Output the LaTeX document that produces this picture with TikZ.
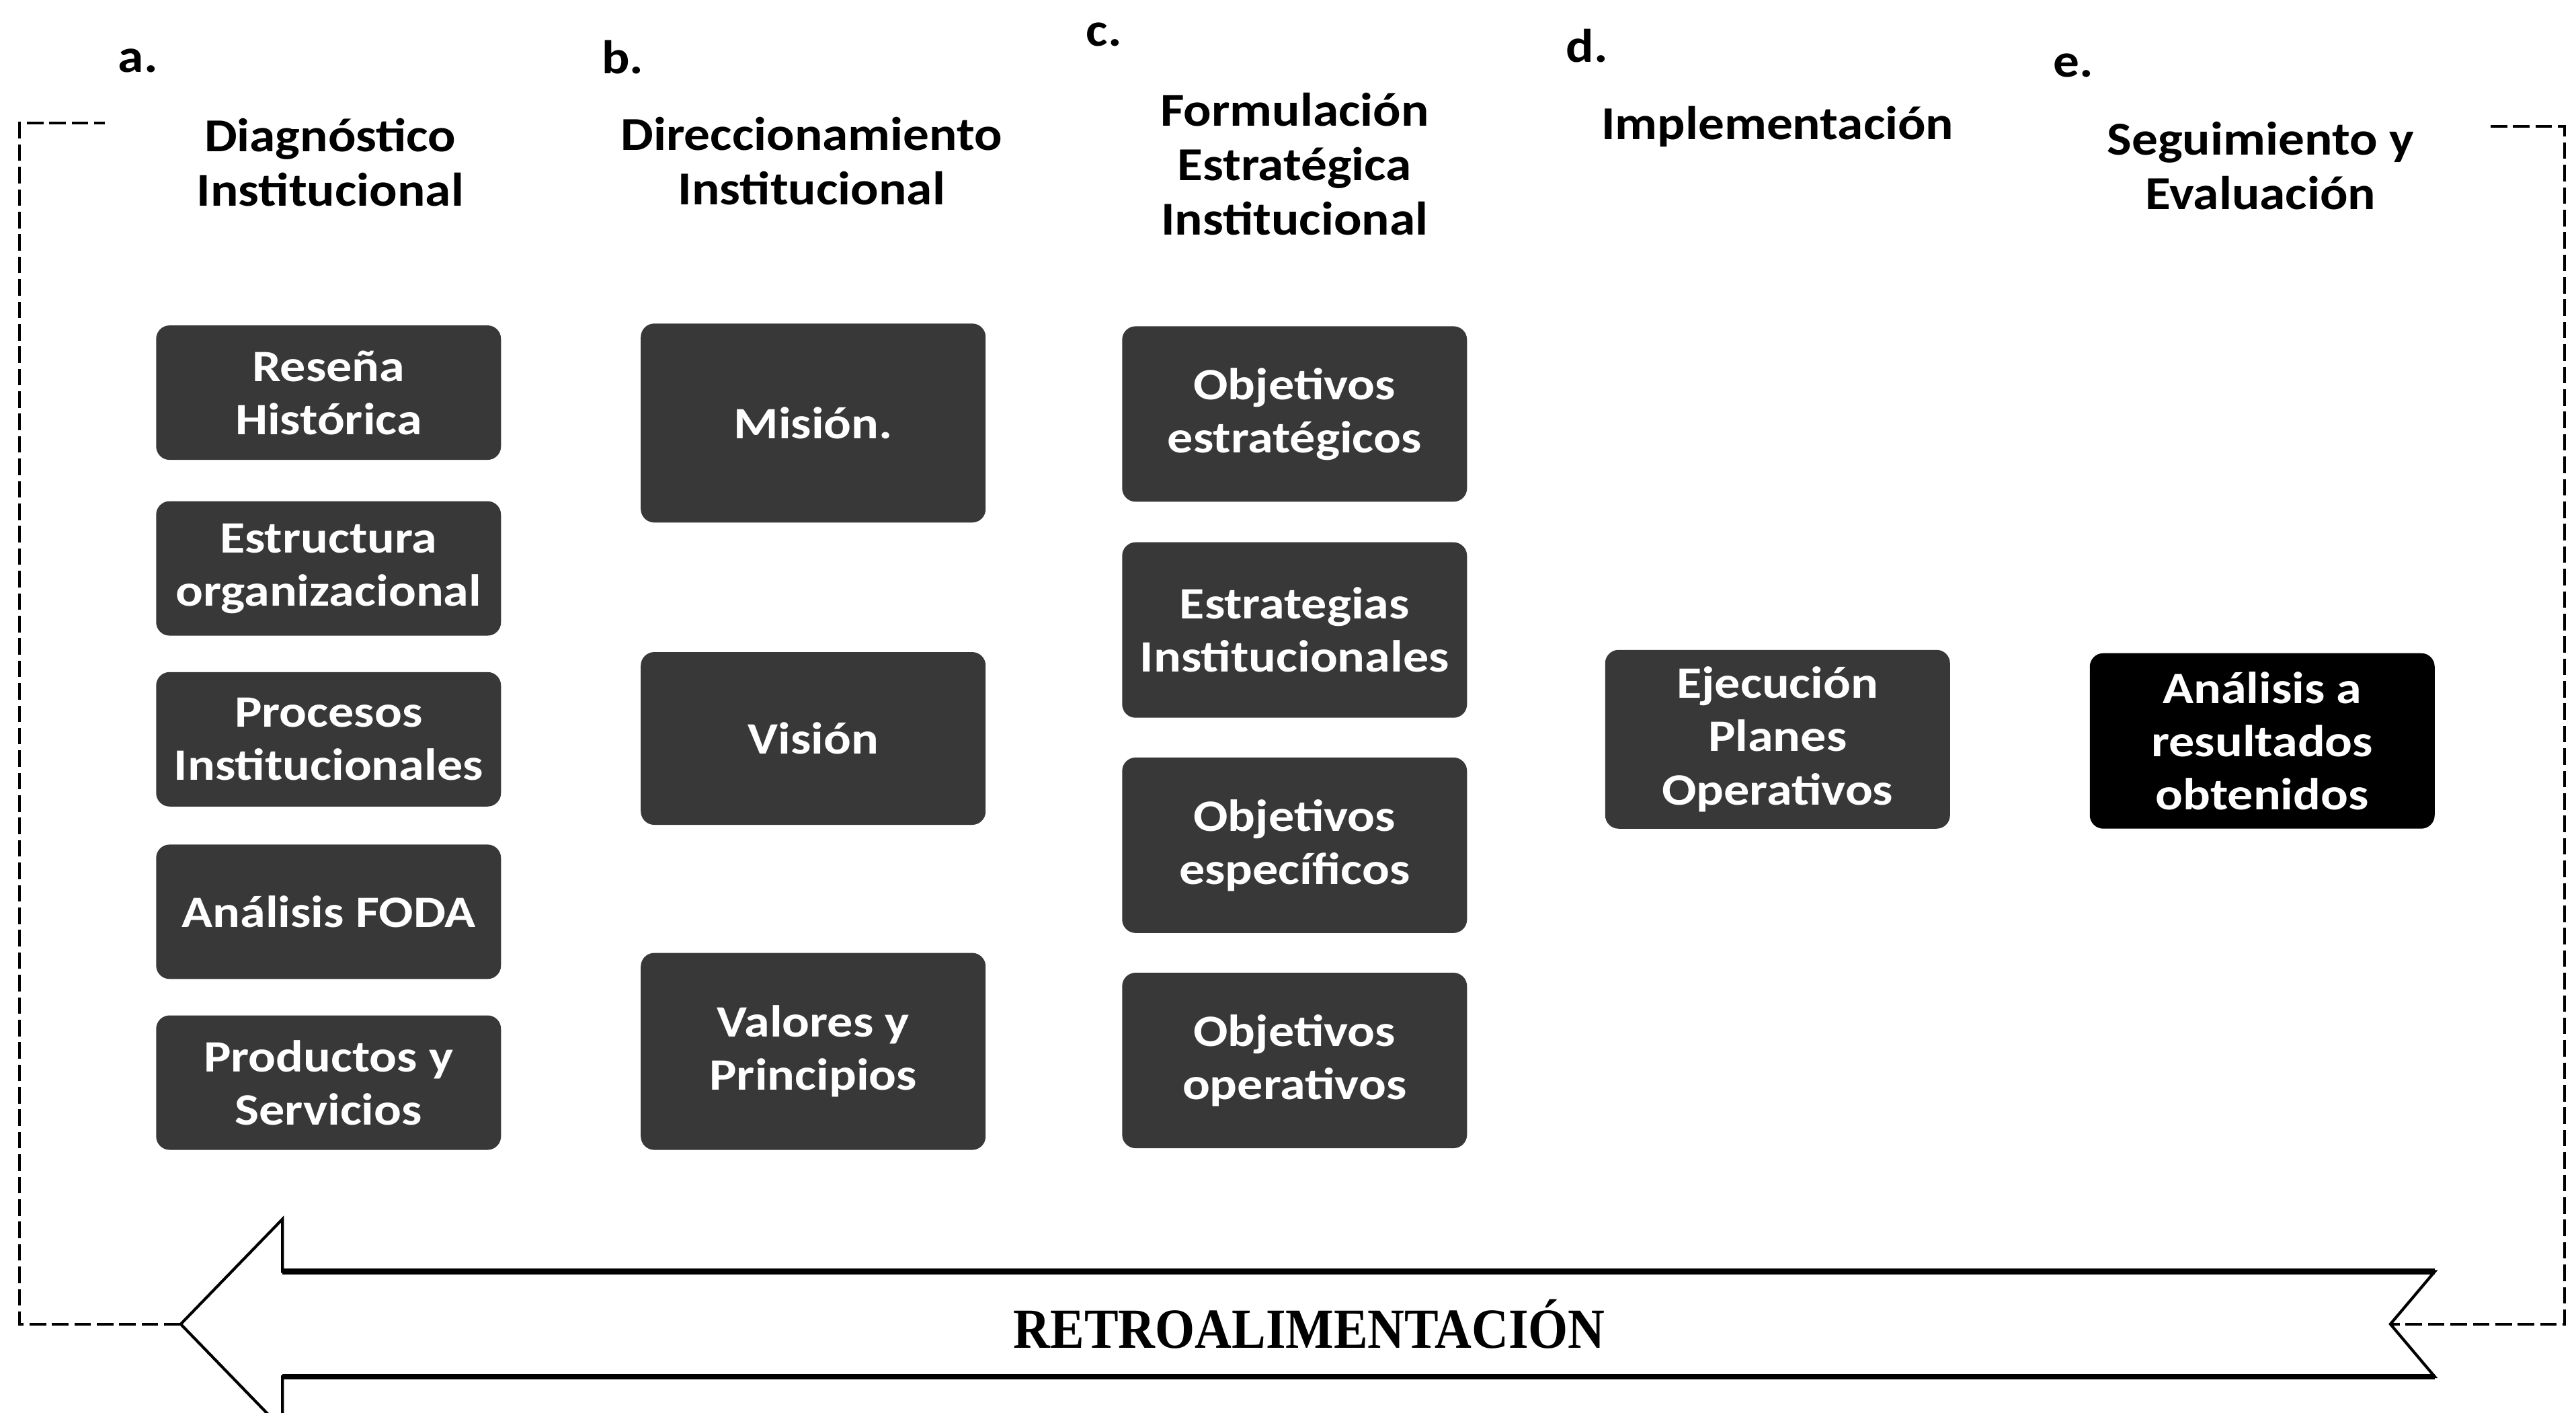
\documentclass[tikz,border=0pt]{standalone}
\usepackage{fontspec}
\setmainfont{Carlito}
\newfontfamily\titfont[FakeStretch=1.1]{Carlito}
\newfontfamily\cajafont[FakeStretch=1.14]{Carlito}
\newfontfamily\retrofont{Liberation Serif}
\begin{document}
\begin{tikzpicture}[x=0.2444mm,y=-0.2444mm,
    letra/.style={font=\titfont\fontsize{20}{23}\selectfont\bfseries},
    etapa/.style={font=\titfont\fontsize{20}{23}\selectfont\bfseries, align=center},
    caja/.style={rounded corners=2mm, fill=black!78, text=white, inner sep=0pt,
        minimum width=51.3mm, align=center, font=\cajafont\fontsize{19}{22.5}\selectfont\bfseries},
    retro/.style={dash pattern=on 7pt off 2.5pt, line width=1.2pt}]
                \useasboundingbox (0,0) rectangle (1568,859.7);

                % letras de las etapas
                \node [letra] (la) at (84,37) {a.};
                \node [letra] (lb) at (379,35) {b.};
                \node [letra] (lc) at (672,21) {c.};
                \node [letra] (ld) at (966,28) {d.};
                \node [letra] (le) at (1262,40) {e.};

                % titulos
                \node [etapa] (ea) at (201,99) {Diagnóstico\\Institucional};
                \node [etapa] (eb) at (494,98) {Direccionamiento\\Institucional};
                \node [etapa] (ec) at (788,100) {Formulación\\Estratégica\\Institucional};
                \node [etapa] (ed) at (1082,77) {Implementación};
                \node [etapa] (ee) at (1376,101) {Seguimiento y\\Evaluación};

                % a.
                \node [caja, minimum height=20mm] (a1) at (200,239) {Reseña\\Histórica};
                \node [caja, minimum height=20mm] (a2) at (200,346) {Estructura\\organizacional};
                \node [caja, minimum height=20mm] (a3) at (200,450) {Procesos\\Institucionales};
                \node [caja, minimum height=20mm] (a4) at (200,555) {Análisis FODA};
                \node [caja, minimum height=20mm] (a5) at (200,659) {Productos y\\Servicios};

                % b.
                \node [caja, minimum height=29.6mm] (b1) at (495,257.5) {Misión.};
                \node [caja, minimum height=25.7mm] (b2) at (495,449.5) {Visión};
                \node [caja, minimum height=29.3mm] (b3) at (495,640) {Valores y\\Principios};

                % c.
                \node [caja, minimum height=26.1mm] (c1) at (788,252) {Objetivos\\estratégicos};
                \node [caja, minimum height=26.1mm] (c2) at (788,383.5) {Estrategias\\Institucionales};
                \node [caja, minimum height=26.1mm] (c3) at (788,514.5) {Objetivos\\específicos};
                \node [caja, minimum height=26.1mm] (c4) at (788,645.5) {Objetivos\\operativos};

                % d. y e.
                \node [caja, minimum height=26.6mm] (d1) at (1082,450) {Ejecución\\Planes\\Operativos};
                \node [caja, minimum height=26.1mm, fill=black] (e1) at (1377,451) {Análisis a\\resultados\\obtenidos};

                % flecha de retroalimentacion
                \coordinate (punta) at (110,806);
                \coordinate (cabS) at (172,742);
                \coordinate (cabI) at (172,870);
                \coordinate (astaS) at (172,774);
                \coordinate (astaI) at (172,838);
                \coordinate (colaS) at (1482,774);
                \coordinate (colaI) at (1482,838);
                \coordinate (muesca) at (1455,806);

                \draw [line width=1.2pt, line join=miter]
                    (punta) -- (cabS) -- (astaS) -- (colaS) -- (muesca) -- (colaI) -- (astaI) -- (cabI) -- cycle;
                \draw [line width=2.4pt] (astaS) -- (colaS);
                \draw [line width=2.4pt] (astaI) -- (colaI);

                \node [font=\retrofont\fontsize{24}{28}\selectfont\bfseries, xscale=0.9] (rt) at (797,806) {RETROALIMENTACIÓN};

                % linea punteada
                \coordinate (fi1) at (64,75);
                \coordinate (fi2) at (12,75);
                \coordinate (fi3) at (12,806);
                \coordinate (fd1) at (1516,77);
                \coordinate (fd2) at (1561,77);
                \coordinate (fd3) at (1561,806);

                \draw [retro] (punta) -- (fi3) -- (fi2) -- (fi1);
                \draw [retro] (fd1) -- (fd2) -- (fd3) -- (muesca);

\end{tikzpicture}
\end{document}
